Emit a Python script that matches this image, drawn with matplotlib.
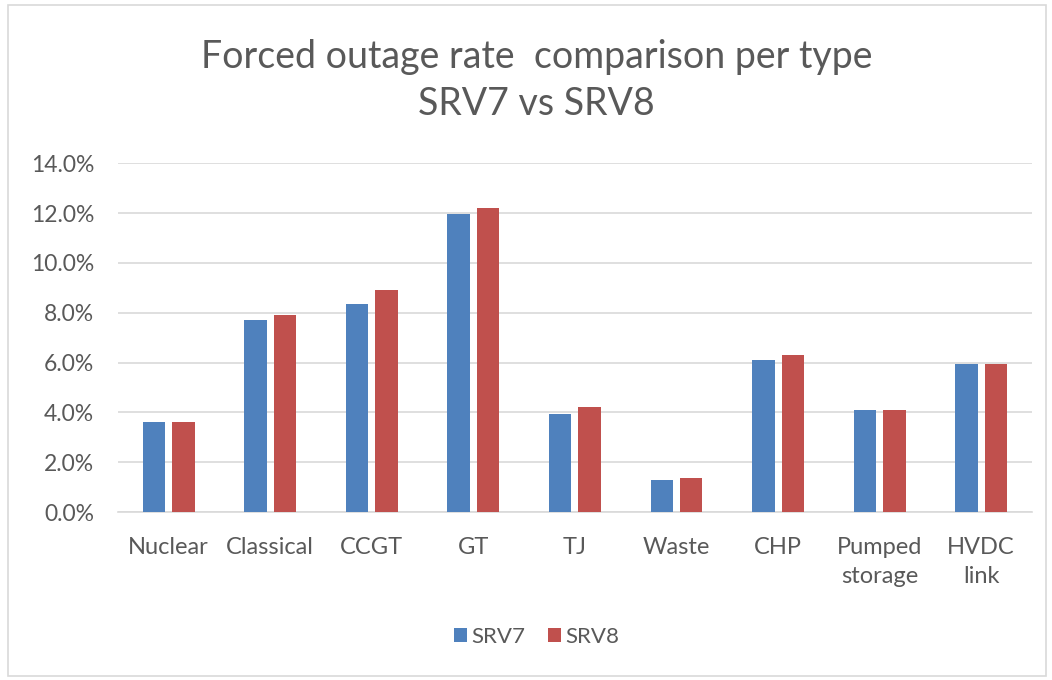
import numpy as np
import matplotlib
matplotlib.use('Agg')
import matplotlib.pyplot as plt
from matplotlib.patches import Rectangle
from matplotlib.ticker import FuncFormatter

categories = ['Nuclear', 'Classical', 'CCGT', 'GT', 'TJ', 'Waste', 'CHP',
              'Pumped\nstorage', 'HVDC\nlink']
srv7 = [3.6, 7.7, 8.35, 11.95, 3.95, 1.3, 6.1, 4.1, 5.95]
srv8 = [3.6, 7.9, 8.9, 12.2, 4.2, 1.35, 6.3, 4.1, 5.95]
yticks = [0, 2, 4, 6, 8, 10, 12, 14]

plt.rcParams['font.family'] = ['Lato', 'DejaVu Sans']
text_color = '#595959'
grid_color = '#d9d9d9'

fig = plt.figure(figsize=(10.52, 6.80), dpi=100)
ax = fig.add_axes([0.112, 0.247, 0.869, 0.513])

x = np.arange(len(categories))
w = 0.22
ax.bar(x - 0.145, srv7, w, color='#4f81bd', label='SRV7', zorder=3)
ax.bar(x + 0.145, srv8, w, color='#c0504d', label='SRV8', zorder=3)

ax.set_xlim(-0.5, len(categories) - 0.5)
ax.set_ylim(0, 14)
ax.set_yticks(yticks)
ax.yaxis.set_major_formatter(FuncFormatter(lambda v, p: '%.1f%%' % v))
ax.set_xticks(x)
ax.set_xticklabels(categories, linespacing=1.45)
ax.tick_params(axis='both', length=0, colors=text_color)
ax.tick_params(axis='x', pad=18, labelsize=17)
ax.tick_params(axis='y', pad=17, labelsize=16.5)
ax.grid(axis='y', color=grid_color, linewidth=1.2, zorder=0)
for s in ['top', 'right', 'left']:
    ax.spines[s].set_visible(False)
ax.spines['bottom'].set_color(grid_color)
ax.spines['bottom'].set_linewidth(1.2)

fig.text(0.51, 0.916, 'Forced outage rate  comparison per type', ha='center',
         va='center', fontsize=27, color=text_color)
fig.text(0.51, 0.847, 'SRV7 vs SRV8', ha='center', va='center',
         fontsize=27, color=text_color)

fig.legend(loc='center', bbox_to_anchor=(0.51, 0.063), ncol=2, frameon=False,
           fontsize=16, labelcolor=text_color, handlelength=0.6,
           handleheight=0.6, handletextpad=0.2, columnspacing=1.0)

fig.patches.append(Rectangle((0.008, 0.006), 0.986, 0.986, transform=fig.transFigure,
                             fill=False, edgecolor=grid_color, linewidth=1.2))

fig.savefig('out.png', dpi=100)
